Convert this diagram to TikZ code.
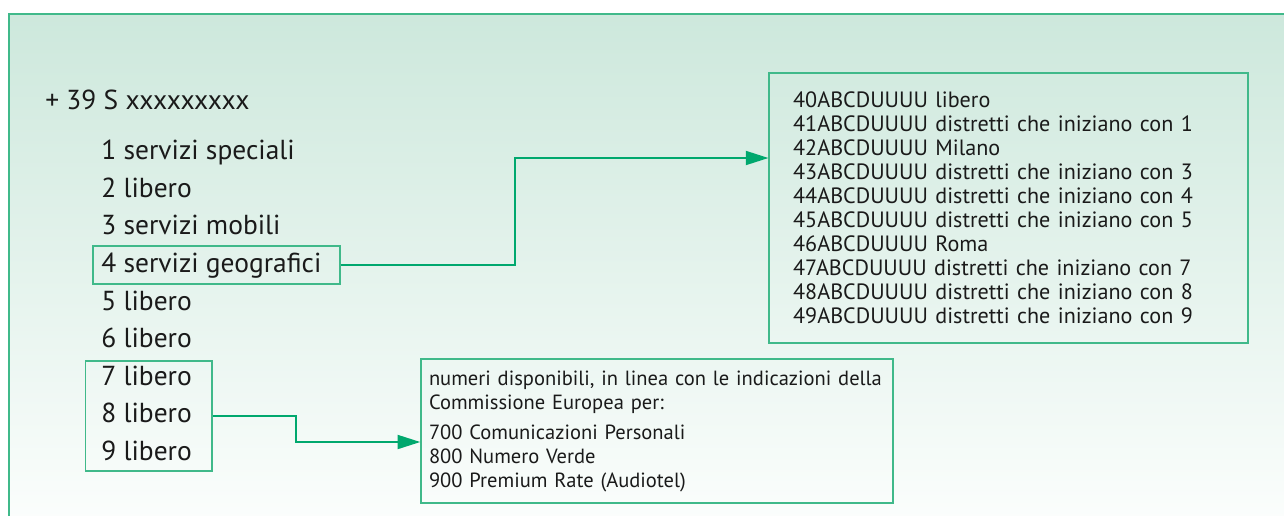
\documentclass[tikz,border=0pt]{standalone}
\usepackage{fontspec}
\setmainfont{PT Sans}
\usetikzlibrary{positioning,arrows.meta}

\definecolor{framegreen}{RGB}{64,185,138}
\definecolor{linkgreen}{RGB}{0,168,110}
\definecolor{bgtop}{RGB}{205,232,220}
\definecolor{bgbottom}{RGB}{252,254,253}
\definecolor{inkgray}{RGB}{26,26,26}

\begin{document}
\begin{tikzpicture}[x=0.75pt, y=-0.75pt,
    item/.style={anchor=west, inner sep=0pt, minimum height=27.8pt, text height=14.5pt, text depth=4.5pt, font=\fontsize{20.6}{24}\selectfont, text=inkgray},
    hlbox/.style={rectangle, draw=framegreen, line width=1.1pt},
    infobox/.style={rectangle, draw=framegreen, line width=1.1pt, align=left, text=inkgray},
    link/.style={-{Triangle[length=17pt, width=10.5pt]}, draw=linkgreen, line width=1.4pt},
]
\useasboundingbox (0,0) rectangle (1284,515);

% ---- background panel ----
\fill[top color=bgtop, bottom color=bgbottom] (9,14) rectangle (1300,530);
\draw[framegreen, line width=1.1pt] (9,530) -- (9,14) -- (1300,14);

% ---- prefix and first digit ----
\node[item] (prefix) at (45,103) {+ 39 S xxxxxxxxx};
\node[item] (i1) at (101,153) {1 servizi speciali};
\node[item, below=0pt of i1.south west, anchor=north west] (i2) {2 libero};
\node[item, below=0pt of i2.south west, anchor=north west] (i3) {3 servizi mobili};
\node[item, below=0pt of i3.south west, anchor=north west] (i4) {4 servizi geografici};
\node[item, below=0pt of i4.south west, anchor=north west] (i5) {5 libero};
\node[item, below=0pt of i5.south west, anchor=north west] (i6) {6 libero};
\node[item, below=0pt of i6.south west, anchor=north west] (i7) {7 libero};
\node[item, below=0pt of i7.south west, anchor=north west] (i8) {8 libero};
\node[item, below=0pt of i8.south west, anchor=north west] (i9) {9 libero};

% ---- highlight boxes ----
\node[hlbox, minimum width=185.25pt, minimum height=28.5pt] (geobox) at (216.5,265) {};
\node[hlbox, minimum width=94.9pt, minimum height=82.5pt] (freebox) at (148.75,416) {};

% ---- geographic districts ----
\node[infobox, font=\fontsize{16.6}{18}\selectfont, text width=323pt, inner xsep=18pt, minimum height=202.5pt] (geo) at (1008.5,208) {
  40ABCDUUUU libero\\
  41ABCDUUUU distretti che iniziano con 1\\
  42ABCDUUUU Milano\\
  43ABCDUUUU distretti che iniziano con 3\\
  44ABCDUUUU distretti che iniziano con 4\\
  45ABCDUUUU distretti che iniziano con 5\\
  46ABCDUUUU Roma\\
  47ABCDUUUU distretti che iniziano con 7\\
  48ABCDUUUU distretti che iniziano con 8\\
  49ABCDUUUU distretti che iniziano con 9
};

% ---- European numbers ----
\node[infobox, font=\fontsize{15.4}{18}\selectfont, text width=342pt, inner xsep=6pt, minimum height=108pt] (eu) at (657,431) {
  numeri disponibili, in linea con le indicazioni della\\
  Commissione Europea per:\\[4.5pt]
  700 Comunicazioni Personali\\
  800 Numero Verde\\
  900 Premium Rate (Audiotel)
};

% ---- connectors ----
\draw[link] (geobox.east) -- ++(174,0) |- ([yshift=37.5pt]geo.west);
\draw[link] (freebox.east) -- ++(83,0) |- ([yshift=-8.25pt]eu.west);

\end{tikzpicture}
\end{document}
